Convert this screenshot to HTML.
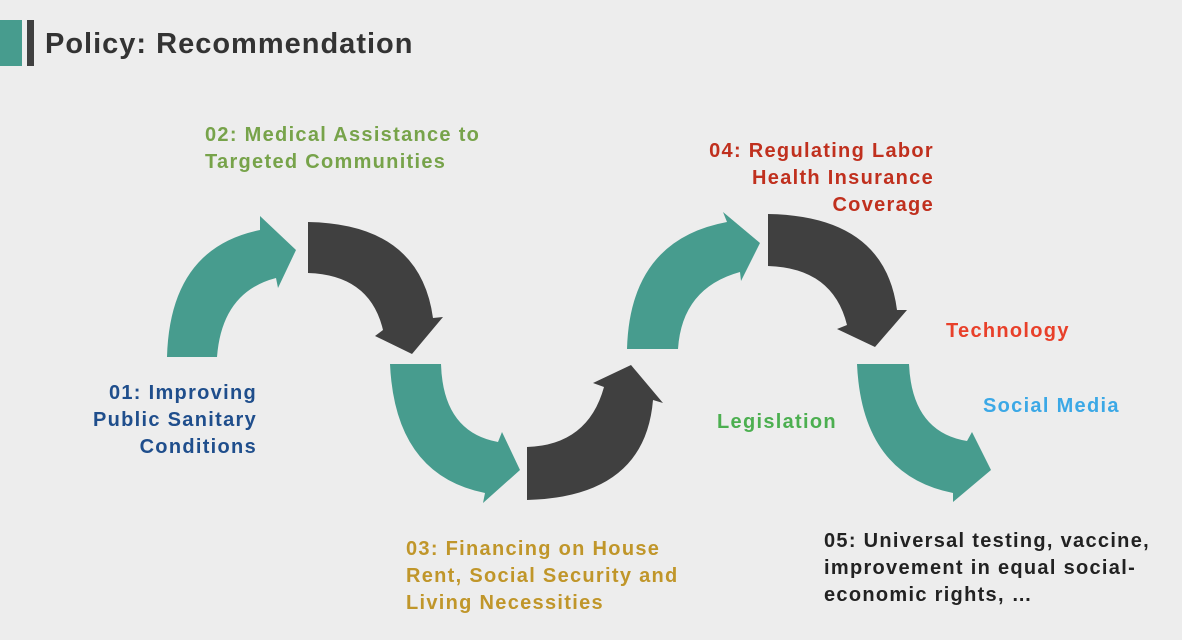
<!DOCTYPE html>
<html><head><meta charset="utf-8"><style>
body{margin:0;width:1182px;height:640px;background:#ededed;overflow:hidden;position:relative;font-family:"Liberation Sans",sans-serif;}
.t{position:absolute;font-weight:bold;font-size:20px;letter-spacing:1.3px;line-height:27px;white-space:nowrap;}
</style></head><body>
<div style="position:absolute;left:0;top:20px;width:22px;height:46px;background:#479c8e"></div>
<div style="position:absolute;left:27px;top:20px;width:7px;height:46px;background:#404040"></div>
<div class="t" style="left:45px;top:26px;font-size:29px;letter-spacing:1px;line-height:36px;color:#333">Policy: Recommendation</div>
<svg width="1182" height="640" style="position:absolute;left:0;top:0">
<path fill="#479c8e" d="M167,357 Q170,248 260,230 L260,216 L296,250 L278,288 L276,278 Q222,292 217,357 Z"/>
<path fill="#404040" d="M308,222 Q420,224 433,318 L443,317 L412,354 L375,336 L383,330 Q370,275 308,273 Z"/>
<path fill="#479c8e" d="M390,364 Q395,475 485,493 L483,503 L520,470 L502,432 L498,442 Q443,432 441,364 Z"/>
<path fill="#404040" d="M527,500 Q645,497 653,400 L663,403 L631,365 L593,383 L604,387 Q588,445 527,447 Z"/>
<path fill="#479c8e" d="M627,349 Q630,240 727,222 L723,212 L760,243 L741,281 L740,272 Q682,288 678,349 Z"/>
<path fill="#404040" d="M768,214 Q885,216 897,310 L907,310 L875,347 L837,329 L847,325 Q833,268 768,266 Z"/>
<path fill="#479c8e" d="M857,364 Q862,475 953,493 L953,502 L991,470 L972,432 L967,441 Q912,432 909,364 Z"/>
</svg>
<div class="t" style="right:925px;top:380px;text-align:right;color:#1f4e8c">01: Improving<br>Public Sanitary<br>Conditions</div>
<div class="t" style="left:205px;top:122px;color:#77a34a">02: Medical Assistance to<br>Targeted Communities</div>
<div class="t" style="left:406px;top:536px;color:#c0962a">03: Financing on House<br>Rent, Social Security and<br>Living Necessities</div>
<div class="t" style="right:248px;top:138px;text-align:right;color:#c0301e">04: Regulating Labor<br>Health Insurance<br>Coverage</div>
<div class="t" style="left:946px;top:318px;color:#e8402a">Technology</div>
<div class="t" style="left:983px;top:393px;color:#3ba8e6">Social Media</div>
<div class="t" style="left:717px;top:409px;color:#4caf50">Legislation</div>
<div class="t" style="left:824px;top:528px;color:#222">05: Universal testing, vaccine,<br>improvement in equal social-<br>economic rights, …</div>
</body></html>
